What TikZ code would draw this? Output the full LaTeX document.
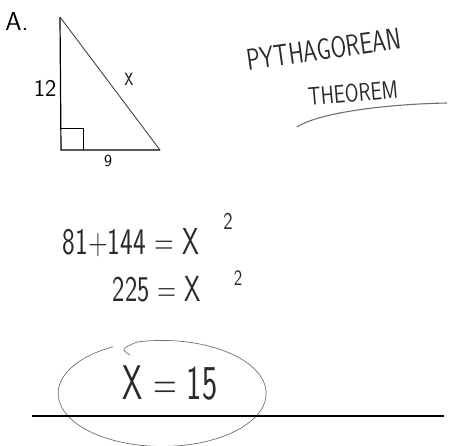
\documentclass[tikz,border=0pt]{standalone}
\usepackage{graphicx}
\usepackage{tikz}
\usetikzlibrary{positioning, calc}
\definecolor{pencil}{HTML}{2A2A2A}
\definecolor{scangray}{HTML}{707070}
\newcommand{\hand}[2][1.25]{\scalebox{0.9}[#1]{\sffamily #2}}

\begin{document}
\begin{tikzpicture}[
  x=1pt, y=-1pt,
  printed/.style={font=\sffamily, inner sep=0pt, text=black},
  handtext/.style={inner sep=0pt, text=pencil},
  edge/.style={line width=1.2pt, black},
  loop/.style={line width=0.7pt, scangray},
]
\useasboundingbox (0,0) rectangle (452,445);

% --- Problem label and triangle ---
\node[printed, font=\sffamily\fontsize{26}{26}\selectfont] (lab) at (17,21) {A.};
\coordinate (top) at (60,17);
\coordinate (corner) at (61,150);
\coordinate (right) at (160,150);
\draw[edge] (top) -- (corner) -- (right);
\draw[line width=0.8pt, black!80] (right) -- (top);
\draw[line width=1pt] ($(corner)+(0,-22)$) -| ($(corner)+(22,0)$);
\node[printed, font=\sffamily\fontsize{24}{24}\selectfont, left=4pt of $(top)!0.54!(corner)$] (leg12) {12};
\node[printed, font=\sffamily\fontsize{17}{17}\selectfont] (leg9) at (108,161) {9};
\node[handtext] (hyp) at (129,79) {\hand[1.3]{\fontsize{22}{22}\selectfont x}};

% --- Title ---
\node[handtext, rotate=8] (title1) at (324,49) {\hand[1.2]{\fontsize{25}{25}\selectfont PYTHAGOREAN}};
\node[handtext, rotate=5] (title2) at (353,93) {\hand[1.15]{\fontsize{22}{22}\selectfont THEOREM}};
\coordinate (ul1) at (297,127);
\coordinate (ul2) at (447,103);
\draw[line width=1.1pt, scangray] (ul1) .. controls (320,112) and (390,104) .. (ul2);

% --- Working ---
\node[handtext] (eq1) at (131,243) {\hand{\fontsize{30}{30}\selectfont 81+144 = X}};
\node[handtext] (sq1) at (228,221) {\hand[1.1]{\fontsize{22}{22}\selectfont 2}};
\node[handtext] (eq2) at (157,289) {\hand{\fontsize{29}{29}\selectfont 225 = X}};
\node[handtext] (sq2) at (238,278) {\hand[1.1]{\fontsize{20}{20}\selectfont 2}};

% --- Answer ---
\node[handtext] (ans) at (170,383) {\hand[1.35]{\fontsize{36}{36}\selectfont X = 15}};
\coordinate (hook) at (130,355);
\coordinate (loopstart) at (137,342);
\draw[loop] (hook) .. controls (121,349) .. (loopstart)
  arc[start angle=-104, end angle=242, x radius=104, y radius=53, rotate=-8];
\coordinate (rule1) at (32,416);
\coordinate (rule2) at (444,416);
\draw[line width=1.3pt] (rule1) -- (rule2);

\end{tikzpicture}
\end{document}
